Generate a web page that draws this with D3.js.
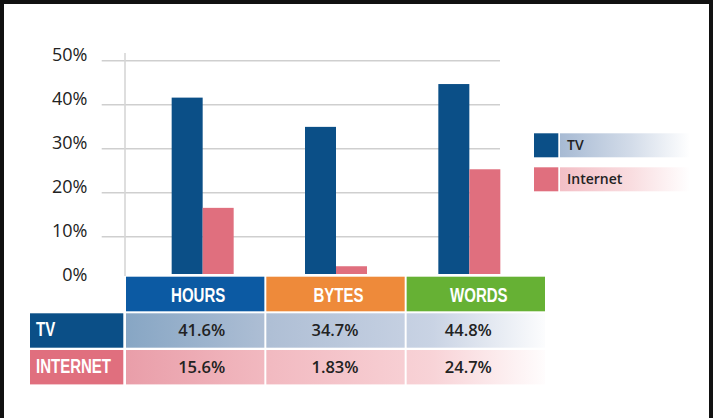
<!DOCTYPE html>
<html>
<head>
<meta charset="utf-8">
<script src="https://cdn.jsdelivr.net/npm/d3@7"></script>
<style>
  html, body { margin: 0; padding: 0; background: #fff; }
  svg { display: block; }
</style>
</head>
<body>
<svg id="chart" width="716" height="418"></svg>
<script>
// ---------- data ----------
const categories = ["HOURS", "BYTES", "WORDS"];
const seriesNames = ["TV", "Internet"];
const rowLabels = ["TV", "INTERNET"];
const tvValues = [41.6, 34.7, 44.8];
const internetValues = [15.6, 1.83, 24.7];
const tickValues = [0, 10, 20, 30, 40, 50];
const tvLabels = ["41.6%", "34.7%", "44.8%"];
const internetLabels = ["15.6%", "1.83%", "24.7%"];

// ---------- styles ----------
const tvColor = "#0b4f87";
const netColor = "#e06f7e";
const headerColors = ["#0c5aa3", "#ee8a3a", "#66b134"];
const bodyFont = "'Open Sans', 'Noto Sans', sans-serif";
const condFont = "'Liberation Sans', Arial, sans-serif";
const squeeze = 0.77;

const svg = d3.select("#chart");
const defs = svg.append("defs");

function grad(id, stops, x1, x2) {
  const g = defs.append("linearGradient").attr("id", id)
    .attr("gradientUnits", "userSpaceOnUse")
    .attr("x1", x1).attr("x2", x2).attr("y1", 0).attr("y2", 0);
  stops.forEach(s => g.append("stop").attr("offset", s[0]).attr("stop-color", s[1]));
}
grad("tvRow", [[0, "#87a6c4"], [0.34, "#afbfd5"], [0.72, "#c9d3e4"], [1, "#ffffff"]], 126, 552);
grad("netRow", [[0, "#e99ea9"], [0.34, "#f2bac1"], [0.72, "#f8d3d7"], [1, "#ffffff"]], 126, 552);
grad("tvLeg", [[0, "#a7bad3"], [0.55, "#d3dce9"], [1, "#ffffff"]], 560, 690);
grad("netLeg", [[0, "#f3bfc6"], [0.55, "#f9dde0"], [1, "#ffffff"]], 560, 690);

// ---------- scales ----------
const yGrid = d3.scaleLinear().domain([0, 50]).range([280.7, 60.7]);
const yBar = d3.scaleLinear().domain([0, 50]).range([274, 62]);
const xBand = d3.scaleBand().domain(categories).range([136, 536]).paddingInner(0.535).paddingOuter(0.2675);
const xSub = d3.scaleBand().domain(seriesNames).range([0, xBand.bandwidth()]);
const xCell = d3.scaleBand().domain(categories).range([126, 545]).paddingInner(0.014);

// ---------- gridlines & axis ----------
const gridG = svg.append("g");
gridG.selectAll("line.grid").data(tickValues.slice(1)).join("line")
  .attr("x1", 101.7).attr("x2", 500)
  .attr("y1", d => yGrid(d)).attr("y2", d => yGrid(d))
  .attr("stroke", "#cfcfcf").attr("stroke-width", 1.6);
gridG.append("line")
  .attr("x1", 125).attr("x2", 125).attr("y1", 53).attr("y2", 276)
  .attr("stroke", "#d6d6d6").attr("stroke-width", 1.6);

const yAxis = d3.axisLeft(yGrid).tickValues(tickValues).tickSize(0).tickPadding(0)
  .tickFormat(d => d + "%");
const axG = svg.append("g").attr("transform", "translate(87.5,0)").call(yAxis);
axG.select(".domain").remove();
axG.selectAll("text")
  .attr("dy", null).attr("y", 0)
  .attr("font-family", bodyFont).attr("font-size", 18).attr("font-weight", 500).attr("fill", "#222");

// ---------- bars ----------
const barData = categories.map((c, i) => ({ cat: c, vals: [
  { s: "TV", v: tvValues[i] }, { s: "Internet", v: internetValues[i] }] }));
const groups = svg.append("g").selectAll("g").data(barData).join("g")
  .attr("transform", d => `translate(${xBand(d.cat)},0)`);
groups.selectAll("rect").data(d => d.vals).join("rect")
  .attr("x", d => xSub(d.s)).attr("width", xSub.bandwidth())
  .attr("y", d => yBar(d.v)).attr("height", d => yBar(0) - yBar(d.v))
  .attr("fill", d => d.s === "TV" ? tvColor : netColor);

// ---------- table ----------
const headTop = 276.7, headH = 34.6;
const row1Top = 313.3, rowH = 34.4, row2Top = 350;

svg.append("g").selectAll("rect").data(categories).join("rect")
  .attr("x", d => xCell(d)).attr("width", xCell.bandwidth())
  .attr("y", headTop).attr("height", headH)
  .attr("fill", (d, i) => headerColors[i]);
svg.append("g").selectAll("text").data(categories).join("text")
  .attr("transform", d => `translate(${xCell(d) + xCell.bandwidth() / 2 + 3},301.8) scale(${squeeze},1)`)
  .attr("text-anchor", "middle")
  .attr("font-family", condFont).attr("font-weight", "bold").attr("font-size", 19.5)
  .attr("fill", "#fff").text(d => d);

// row labels
const rowTops = [row1Top, row2Top];
const rowColors = [tvColor, netColor];
svg.append("g").selectAll("rect").data(rowLabels).join("rect")
  .attr("x", 30).attr("width", 93.3)
  .attr("y", (d, i) => rowTops[i]).attr("height", rowH)
  .attr("fill", (d, i) => rowColors[i]);
svg.append("g").selectAll("text").data(rowLabels).join("text")
  .attr("transform", (d, i) => `translate(36,${rowTops[i] + 23}) scale(${squeeze},1)`)
  .attr("font-family", condFont).attr("font-weight", "bold").attr("font-size", 19.5)
  .attr("fill", "#fff").text(d => d);

// value cells
const rows = [
  { fill: "url(#tvRow)", labels: tvLabels, top: row1Top },
  { fill: "url(#netRow)", labels: internetLabels, top: row2Top }
];
rows.forEach(r => {
  const g = svg.append("g");
  g.selectAll("rect").data(categories).join("rect")
    .attr("x", d => xCell(d)).attr("width", xCell.bandwidth())
    .attr("y", r.top).attr("height", rowH).attr("fill", r.fill);
  g.selectAll("text").data(categories).join("text")
    .attr("x", d => xBand(d) + xBand.bandwidth() / 2 - 1)
    .attr("y", r.top + 23).attr("text-anchor", "middle")
    .attr("font-family", bodyFont).attr("font-size", 16.5).attr("font-weight", 600)
    .attr("fill", "#222").text((d, i) => r.labels[i]);
});

// ---------- legend ----------
const legY = [133.3, 167.3];
const legG = svg.append("g");
seriesNames.forEach((s, i) => {
  legG.append("rect").attr("x", 560).attr("y", legY[i]).attr("width", 130).attr("height", 24)
    .attr("fill", i === 0 ? "url(#tvLeg)" : "url(#netLeg)");
  legG.append("rect").attr("x", 534).attr("y", legY[i]).attr("width", 24.3).attr("height", 24)
    .attr("fill", i === 0 ? tvColor : netColor);
  legG.append("text").attr("x", 567).attr("y", legY[i] + 16.5)
    .attr("font-family", bodyFont).attr("font-weight", 600).attr("font-size", 14)
    .attr("fill", "#222").text(s);
});

// ---------- frame ----------
svg.append("path").attr("d", "M2,418 V2 H711 V418")
  .attr("fill", "none").attr("stroke", "#111").attr("stroke-width", 4);
</script>
</body>
</html>
